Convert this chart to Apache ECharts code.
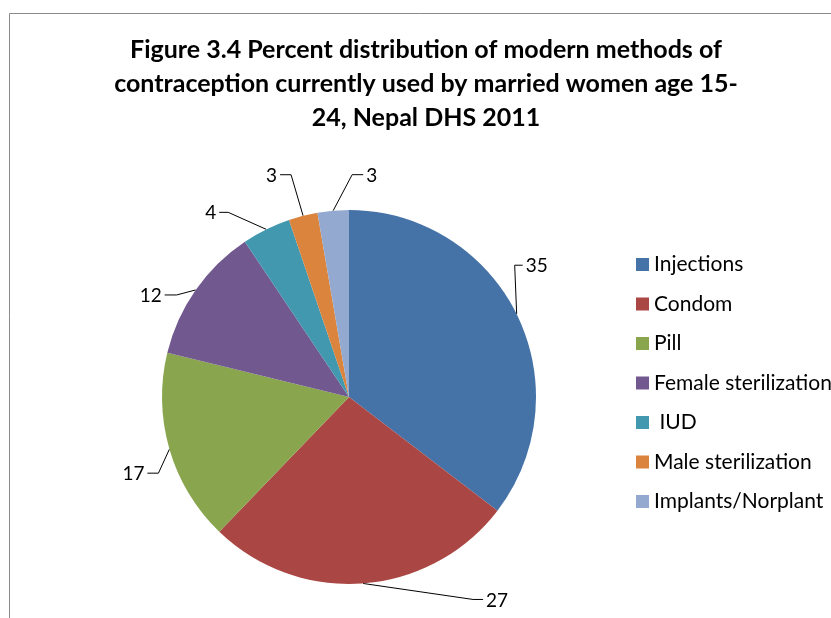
<!DOCTYPE html>
<html>
<head>
<meta charset="utf-8">
<script src="https://cdn.jsdelivr.net/npm/echarts@6/dist/echarts.min.js"></script>
<style>
html,body{margin:0;padding:0;background:#fff;}
#chart{width:831px;height:618px;}
</style>
</head>
<body>
<div id="chart"></div>
<script>
// Data
const categories = ['Injections', 'Condom', 'Pill', 'Female sterilization', ' IUD', 'Male sterilization', 'Implants/Norplant'];
const values = [35.4, 26.8, 16.6, 11.8, 4.2, 2.5, 2.7];
const titleLines = ['Figure 3.4 Percent distribution of modern methods of', 'contraception currently used by married women age 15-', '24, Nepal DHS 2011'];

// Styles
const colors = ['#4572A7', '#AA4643', '#89A54E', '#71588F', '#4198AF', '#DB843D', '#93A9CF'];
const CX = 349, CY = 397, R = 187;
// leader line elbow offsets from the arc midpoint, and horizontal tail lengths
const elbowOffsets = [[-2, -49], [110, 16], [-11, 24], [-19, 5], [-38, -17], [-12, -41], [19, -36]];
const tailLengths = [8, 10, -11, -12, -9, -11, 11];

const total = values.reduce((a, b) => a + b, 0);
const cum = [];
values.reduce((acc, v, i) => { cum[i] = acc; return acc + v; }, 0);

const chart = echarts.init(document.getElementById('chart'), null, { renderer: 'canvas' });
chart.setOption({
  animation: false,
  color: colors,
  title: {
    text: titleLines.join('\n'),
    left: 421,
    top: 28,
    textAlign: 'center',
    textStyle: { fontFamily: 'Lato', fontWeight: 'bold', fontSize: 25, lineHeight: 34, color: '#000' }
  },
  legend: {
    orient: 'vertical',
    left: 631,
    top: 249,
    icon: 'rect',
    itemWidth: 13,
    itemHeight: 13,
    itemGap: 18.5,
    selectedMode: false,
    textStyle: { fontFamily: 'Lato', fontSize: 21, lineHeight: 20, color: '#000' },
    data: categories
  },
  graphic: [{
    type: 'rect',
    shape: { x: 9.5, y: 13.5, width: 1000, height: 800 },
    style: { fill: 'none', stroke: '#8a8a8a', lineWidth: 1 },
    silent: true
  }],
  series: [{
    type: 'pie',
    center: [CX, CY],
    radius: R,
    startAngle: 90,
    clockwise: true,
    avoidLabelOverlap: false,
    emphasis: { disabled: true },
    itemStyle: { borderWidth: 0 },
    label: {
      show: true,
      position: 'outside',
      fontFamily: 'Lato',
      fontSize: 19,
      color: '#000',
      formatter: p => String(Math.round(p.value))
    },
    labelLine: { show: true, length: 5, length2: 5, lineStyle: { color: '#000', width: 1 } },
    labelLayout: function (params) {
      const i = params.dataIndex;
      const theta = 2 * Math.PI * (cum[i] + values[i] / 2) / total;
      const x0 = CX + R * Math.sin(theta);
      const y0 = CY - R * Math.cos(theta);
      const ex = x0 + elbowOffsets[i][0];
      const ey = y0 + elbowOffsets[i][1];
      const tx = ex + tailLengths[i];
      const right = tailLengths[i] > 0;
      return {
        x: tx + (right ? 3 : -3),
        y: ey + 1,
        align: right ? 'left' : 'right',
        verticalAlign: 'middle',
        labelLinePoints: [[x0, y0], [ex, ey], [tx, ey]]
      };
    },
    data: categories.map((c, i) => ({ name: c, value: values[i] }))
  }]
});
</script>
</body>
</html>
